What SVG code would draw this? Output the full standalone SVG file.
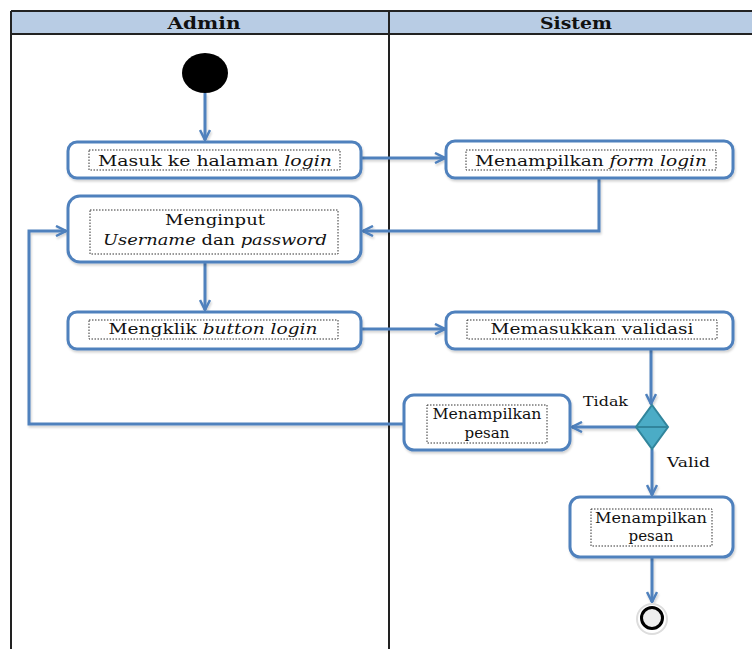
<svg xmlns="http://www.w3.org/2000/svg" width="752" height="649" viewBox="0 0 752 649">
<defs>
<style>
.lane{fill:none;stroke:#222;stroke-width:2}
.hdr{font-family:"DejaVu Serif","Liberation Serif",serif;font-weight:bold;font-size:17px;fill:#111;text-anchor:middle}
.box{fill:#fff;stroke:#4f81bd;stroke-width:3;filter:url(#sh)}
.dot{fill:none;stroke:#333;stroke-width:1;stroke-dasharray:1.5 1.5}
.t{font-family:"DejaVu Serif","Liberation Serif",serif;font-size:15px;fill:#111;text-anchor:middle}
.lbl{font-family:"DejaVu Serif","Liberation Serif",serif;font-size:13px;fill:#111}
.c{fill:none;stroke:#4f81bd;stroke-width:3;filter:url(#sh)}
</style>
<filter id="sh" filterUnits="userSpaceOnUse" x="0" y="0" width="752" height="649">
<feDropShadow dx="1" dy="2" stdDeviation="1.2" flood-color="#000" flood-opacity="0.18"/>
</filter>
<marker id="ah" viewBox="0 0 12 12" refX="11" refY="6" markerWidth="12" markerHeight="12" markerUnits="userSpaceOnUse" orient="auto">
<path d="M1,1 L11,6 L1,11" fill="none" stroke="#4f81bd" stroke-width="2.5"/>
</marker>
</defs>
<rect width="752" height="649" fill="#fff"/>
<g id="lanes">
<rect x="11" y="11" width="745" height="23" fill="#b8cce4"/>
<line class="lane" x1="11" y1="11" x2="752" y2="11"/>
<line class="lane" x1="11" y1="34" x2="752" y2="34"/>
<line class="lane" x1="11" y1="11" x2="11" y2="649"/>
<line class="lane" x1="389" y1="11" x2="389" y2="649"/>
<text class="hdr" x="204" y="29" textLength="73" lengthAdjust="spacingAndGlyphs">Admin</text>
<text class="hdr" x="576" y="29" textLength="72" lengthAdjust="spacingAndGlyphs">Sistem</text>
</g>
<g id="connectors">
<line class="c" x1="205" y1="93" x2="205" y2="140" marker-end="url(#ah)"/>
<line class="c" x1="361" y1="158" x2="445" y2="158" marker-end="url(#ah)"/>
<polyline class="c" points="599,178 599,231 363,231" marker-end="url(#ah)"/>
<line class="c" x1="205" y1="262" x2="205" y2="310" marker-end="url(#ah)"/>
<line class="c" x1="361" y1="329" x2="445" y2="329" marker-end="url(#ah)"/>
<line class="c" x1="651" y1="349" x2="651" y2="404" marker-end="url(#ah)"/>
<line class="c" x1="636" y1="427" x2="572" y2="427" marker-end="url(#ah)"/>
<polyline class="c" points="404,424 29,424 29,231 66,231" marker-end="url(#ah)"/>
<line class="c" x1="652" y1="449" x2="652" y2="495" marker-end="url(#ah)"/>
<line class="c" x1="652" y1="557" x2="652" y2="602" marker-end="url(#ah)"/>
<text class="lbl" x="583" y="406" textLength="45" lengthAdjust="spacingAndGlyphs">Tidak</text>
<text class="lbl" x="667" y="467" textLength="43" lengthAdjust="spacingAndGlyphs">Valid</text>
</g>
<g id="start">
<ellipse cx="205" cy="73" rx="23" ry="20" fill="#000"/>
</g>
<g id="masuk">
<rect class="box" x="68" y="142" width="293" height="36" rx="9"/>
<rect class="dot" x="89" y="150" width="251" height="20"/>
<text class="t" x="215" y="166" textLength="234" lengthAdjust="spacingAndGlyphs">Masuk ke halaman <tspan font-style="italic">login</tspan></text>
</g>
<g id="form">
<rect class="box" x="446" y="141" width="287" height="37" rx="9"/>
<rect class="dot" x="466" y="150" width="250" height="20"/>
<text class="t" x="591" y="166" textLength="232" lengthAdjust="spacingAndGlyphs">Menampilkan <tspan font-style="italic">form login</tspan></text>
</g>
<g id="input">
<rect class="box" x="68" y="196" width="293" height="66" rx="12"/>
<rect class="dot" x="90" y="210" width="248" height="44"/>
<text class="t" x="215" y="225" textLength="100" lengthAdjust="spacingAndGlyphs">Menginput</text>
<text class="t" x="215" y="245" textLength="224" lengthAdjust="spacingAndGlyphs"><tspan font-style="italic">Username</tspan> dan <tspan font-style="italic">password</tspan></text>
</g>
<g id="klik">
<rect class="box" x="68" y="312" width="293" height="37" rx="9"/>
<rect class="dot" x="89" y="320" width="249" height="19"/>
<text class="t" x="213" y="334" textLength="209" lengthAdjust="spacingAndGlyphs">Mengklik <tspan font-style="italic">button login</tspan></text>
</g>
<g id="validasi">
<rect class="box" x="446" y="312" width="287" height="37" rx="9"/>
<rect class="dot" x="467" y="320" width="250" height="19"/>
<text class="t" x="592" y="334" textLength="203" lengthAdjust="spacingAndGlyphs">Memasukkan validasi</text>
</g>
<g id="decision">
<polygon points="652,405 668,427 652,449 636,427" fill="#4bacc6" stroke="#31859c" stroke-width="2"/>
<line x1="637" y1="427" x2="667" y2="427" stroke="#31859c" stroke-width="2"/>
</g>
<g id="pesan1">
<rect class="box" x="404" y="395" width="166" height="55" rx="10"/>
<rect class="dot" x="427" y="405" width="120" height="38"/>
<text class="t" x="487" y="419" textLength="109" lengthAdjust="spacingAndGlyphs">Menampilkan</text>
<text class="t" x="487" y="438" textLength="45" lengthAdjust="spacingAndGlyphs">pesan</text>
</g>
<g id="pesan2">
<rect class="box" x="570" y="497" width="163" height="60" rx="10"/>
<rect class="dot" x="591" y="509" width="121" height="37"/>
<text class="t" x="651" y="523" textLength="112" lengthAdjust="spacingAndGlyphs">Menampilkan</text>
<text class="t" x="651" y="541" textLength="45" lengthAdjust="spacingAndGlyphs">pesan</text>
</g>
<g id="end">
<circle cx="652" cy="619" r="15" fill="#fff" stroke="#ddd" stroke-width="2"/>
<circle cx="652" cy="618" r="10.5" fill="#eee" stroke="#000" stroke-width="3"/>
</g>
</svg>
